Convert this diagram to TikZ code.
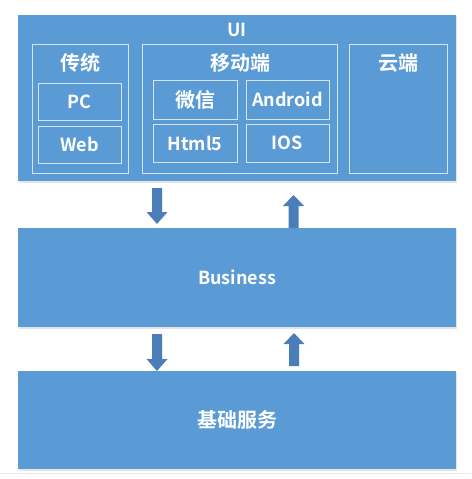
\documentclass[tikz,border=0pt]{standalone}
\usepackage{fontspec}
\setmainfont{Noto Sans CJK SC}[BoldFont={Noto Sans CJK SC Bold}]
\definecolor{boxblue}{HTML}{5B9BD5}
\definecolor{arrblue}{HTML}{4A7EBB}
\definecolor{lineblue}{HTML}{D6E4F3}
\begin{document}
\begin{tikzpicture}[x=1pt,y=-1pt,
  layer/.style={fill=boxblue, draw=none, minimum width=438pt, inner sep=0pt, outer sep=0pt},
  grp/.style={draw=lineblue, line width=0.8pt, fill=none, inner sep=0pt, outer sep=0pt},
  lbl/.style={text=white, font=\bfseries\fontsize{18}{21}\selectfont, inner sep=0pt},
  zh/.style={text=white, font=\bfseries\fontsize{20}{23}\selectfont, inner sep=0pt},
  arr/.style={fill=arrblue, draw=none}]
\useasboundingbox (0,0) rectangle (471,479);
\fill[white] (0,0) rectangle (471,479);
\draw[black!8, line width=0.8pt] (0,473) -- (471,473);
% shadows
\fill[black!10] (19,16) rectangle (457,182.5);
\fill[black!10] (19,229) rectangle (457,328.5);
\fill[black!10] (19,372) rectangle (457,470.5);
% layers
\node[layer, minimum height=166pt] (ui) at (237,98) {};
\node[layer, minimum height=99pt] (biz) at (237,277.5) {};
\node[layer, minimum height=98pt] (base) at (237,420) {};
% groups
\node[grp, minimum width=96pt, minimum height=129pt] (trad) at (80,108.5) {};
\node[grp, minimum width=195pt, minimum height=129pt] (mobile) at (239.5,108.5) {};
\node[grp, minimum width=98pt, minimum height=129pt] (cloud) at (398,108.5) {};
% items
\node[grp, minimum width=83pt, minimum height=37pt] (pc) at (79.5,101.5) {};
\node[grp, minimum width=83pt, minimum height=37pt] (web) at (79.5,144.5) {};
\node[grp, minimum width=84pt, minimum height=39pt] (wx) at (195,99.5) {};
\node[grp, minimum width=83pt, minimum height=39pt] (android) at (287.5,99.5) {};
\node[grp, minimum width=84pt, minimum height=38pt] (html5) at (195,143) {};
\node[grp, minimum width=83pt, minimum height=38pt] (ios) at (287.5,143) {};
% labels
\node[lbl] at (237,30) {UI};
\node[zh] at (80,63) {传统};
\node[zh] at (240,63) {移动端};
\node[zh] at (398,63) {云端};
\node[lbl] at (pc) {PC};
\node[lbl] at (web) {Web};
\node[zh] at (wx) {微信};
\node[lbl] at (android) {Android};
\node[lbl] at (html5) {Html5};
\node[lbl] at (ios) {IOS};
\node[lbl] at (biz) {Business};
\node[zh] at (base) {基础服务};
% arrows (block arrows between layers)
\coordinate (d1) at (157,188);
\coordinate (u1) at (293.5,228);
\coordinate (d2) at (157,334);
\coordinate (u2) at (294,366);
\fill[arr] (d1) ++(-5,0) -- ++(10,0) -- ++(0,24) -- ++(5.5,0) -- (157,224) -- (146.5,212) -- ++(5.5,0) -- cycle;
\fill[arr] (u1) ++(-5,0) -- ++(10,0) -- ++(0,-22) -- ++(5.5,0) -- (293.5,195) -- (283,206) -- ++(5.5,0) -- cycle;
\fill[arr] (d2) ++(-5,0) -- ++(10,0) -- ++(0,25) -- ++(5.5,0) -- (157,371) -- (146.5,359) -- ++(5.5,0) -- cycle;
\fill[arr] (u2) ++(-5,0) -- ++(10,0) -- ++(0,-22) -- ++(5.5,0) -- (294,333) -- (283.5,344) -- ++(5.5,0) -- cycle;
\end{tikzpicture}
\end{document}
